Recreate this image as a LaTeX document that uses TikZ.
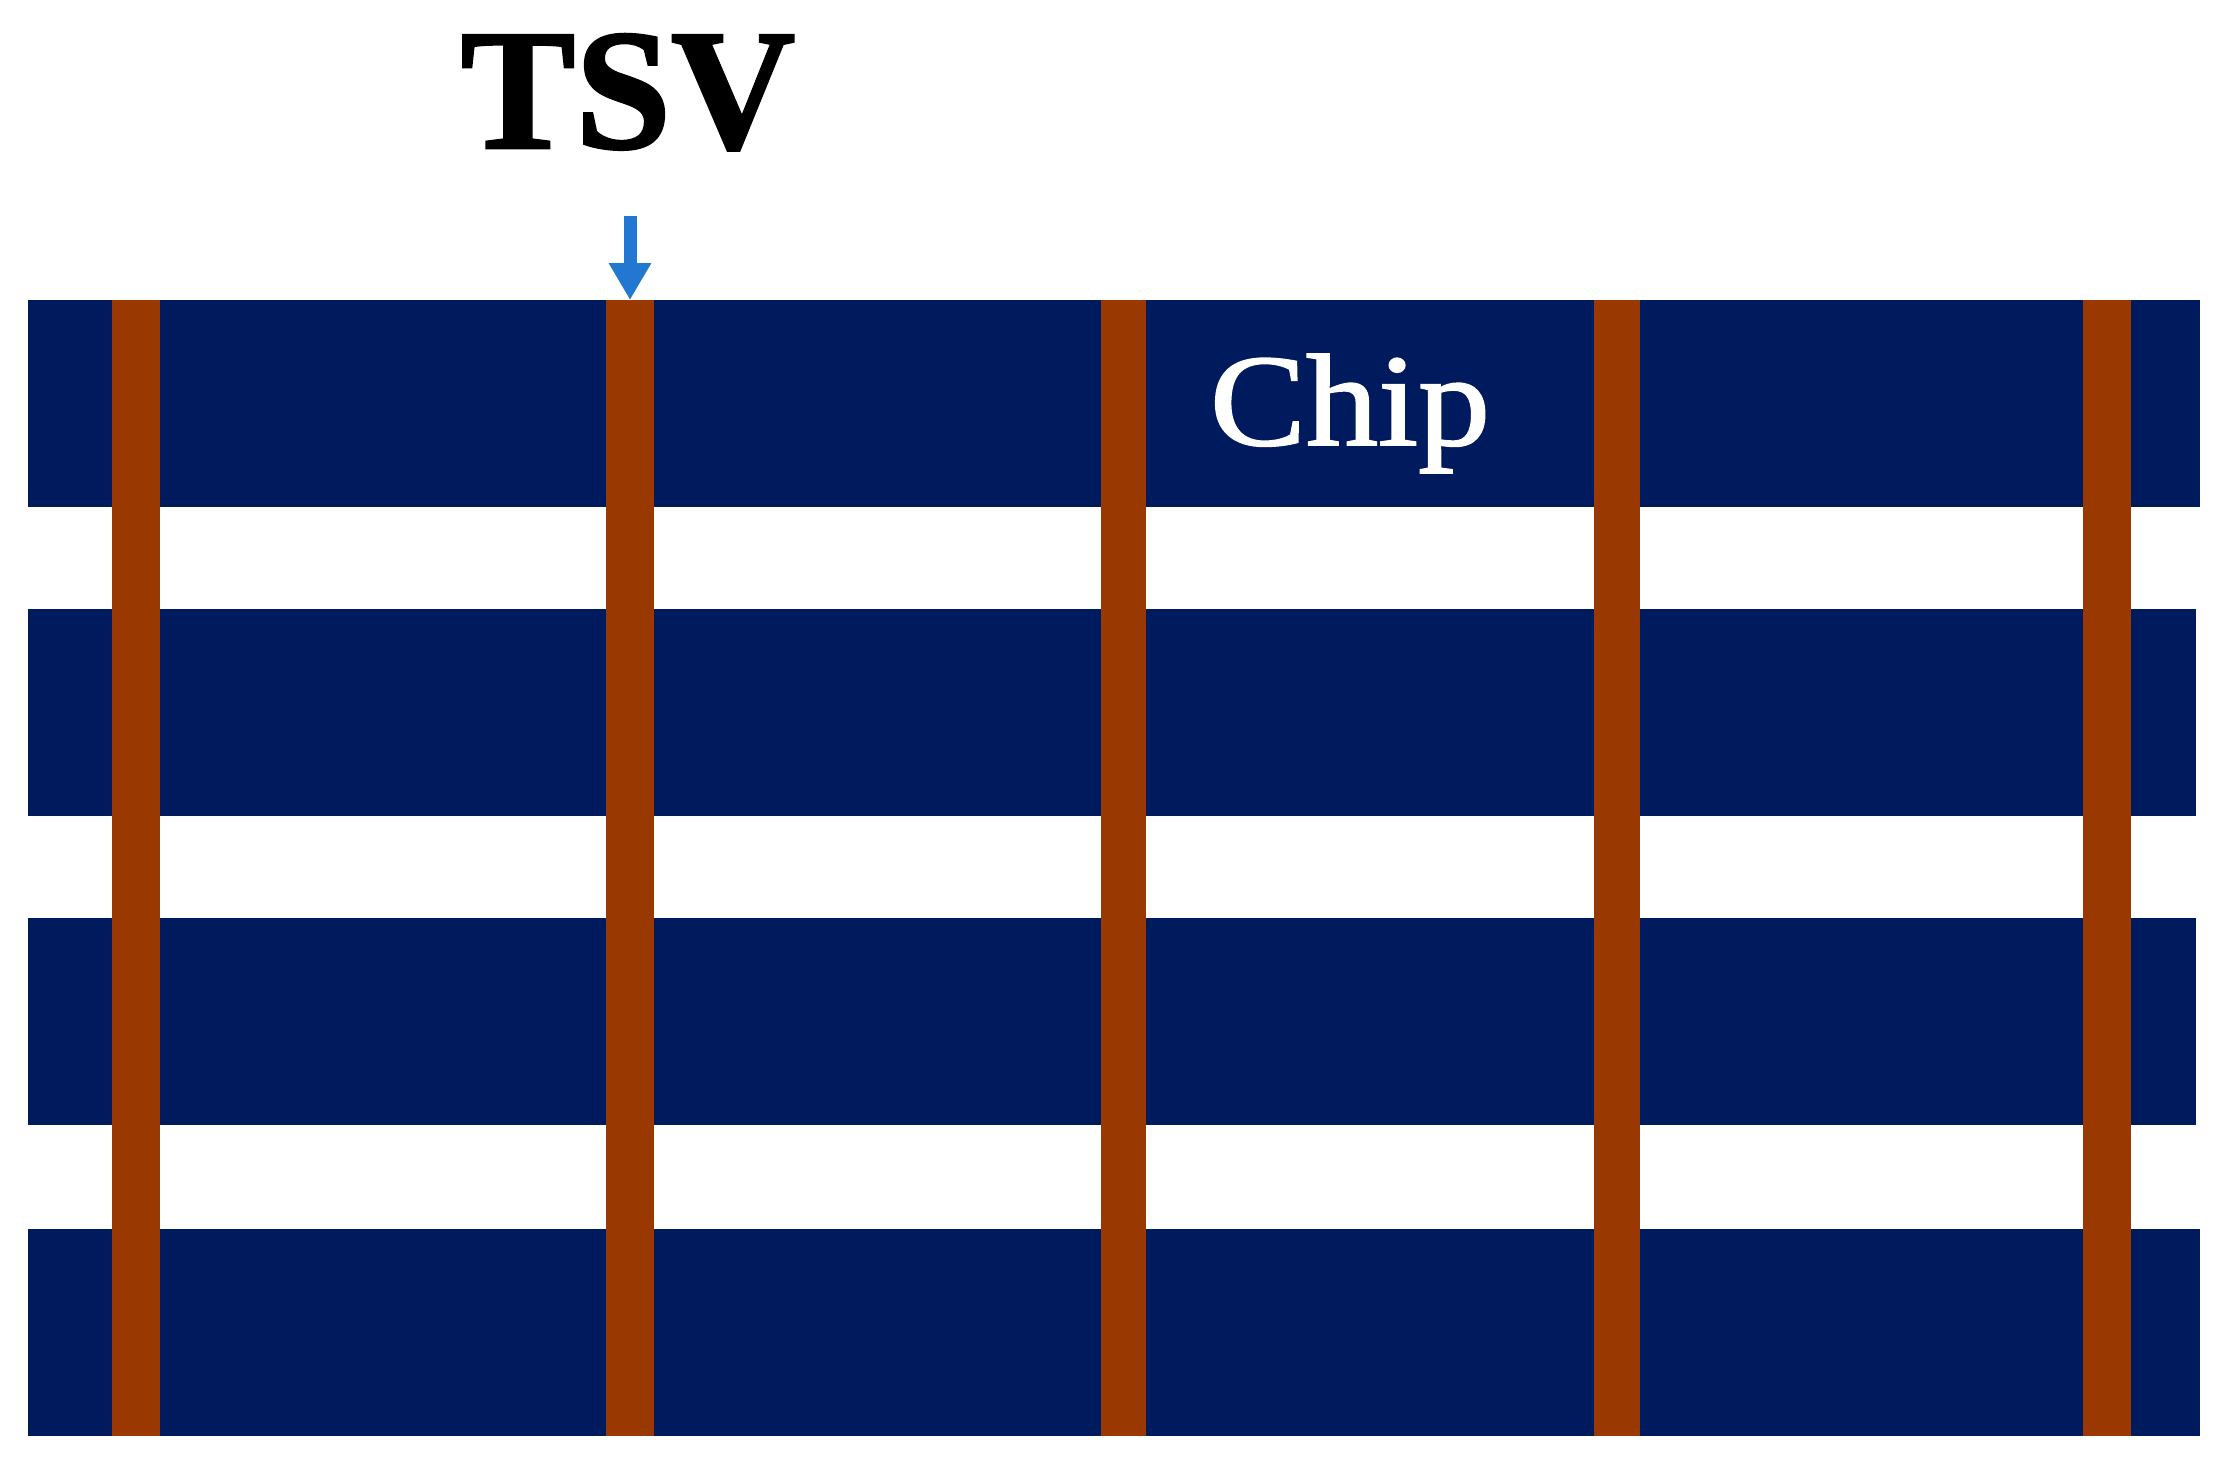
\documentclass[tikz,border=0pt]{standalone}
\usepackage{fontspec}
\setmainfont{Liberation Serif}
\newfontfamily\tsvfont[FakeBold=1.6]{Liberation Serif Bold}
\newfontfamily\chipfont[FakeBold=1.4,FakeStretch=1.1]{Liberation Serif}
\usetikzlibrary{arrows.meta}
\definecolor{navy}{RGB}{0,26,94}
\definecolor{tsvbrown}{RGB}{153,56,0}
\definecolor{arrowblue}{RGB}{34,119,208}
\tikzset{
  box/.style={inner sep=0pt, outer sep=0pt, draw=none, anchor=north west},
  band/.style={box, fill=navy, minimum height=207pt},
  via/.style={box, fill=tsvbrown, minimum width=48pt, minimum height=1136pt},
}
\begin{document}
\begin{tikzpicture}[x=1pt,y=-1pt]
\useasboundingbox (0,0) rectangle (2231,1475);
\fill[white] (0,0) rectangle (2231,1475);
% chip layers
\node[band, minimum width=2172pt] (b1) at (28,300) {};
\node[band, minimum width=2168pt] (b2) at (28,609) {};
\node[band, minimum width=2168pt] (b3) at (28,918) {};
\node[band, minimum width=2172pt] (b4) at (28,1229) {};
% TSVs
\node[via] (t1) at (112,300) {};
\node[via] (t2) at (606,300) {};
\node[via, minimum width=45pt] (t3) at (1101,300) {};
\node[via, minimum width=46pt] (t4) at (1594,300) {};
\node[via] (t5) at (2083,300) {};
% labels
\node[inner sep=0pt, anchor=base, font=\fontsize{172}{172}\selectfont\tsvfont] (tsvlabel) at (628,148) {TSV};
\node[inner sep=0pt, anchor=base, text=white, font=\fontsize{131}{131}\selectfont\chipfont] (chiplabel) at (1350,445) {Chip};
% arrow
\coordinate (arrstart) at ([yshift=84pt]t2.north);
\draw[arrowblue, line width=13pt, -{Triangle[width=40pt,length=37pt]}] (arrstart) -- (t2.north);
\end{tikzpicture}
\end{document}
